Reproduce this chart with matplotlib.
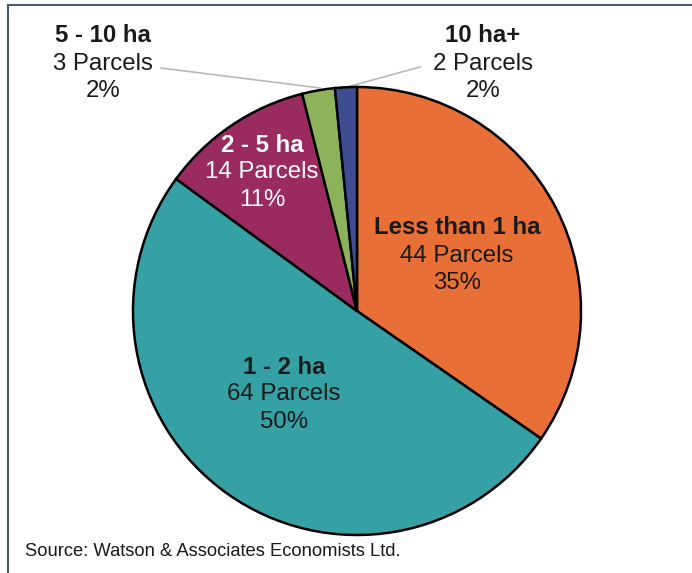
import matplotlib
matplotlib.use("Agg")
import matplotlib.pyplot as plt
from matplotlib.lines import Line2D

# ---- data ----
categories = ["Less than 1 ha", "1 - 2 ha", "2 - 5 ha", "5 - 10 ha", "10 ha+"]
parcels = [44, 64, 14, 3, 2]
colors = ["#E86F36", "#36A1A4", "#9A2B5E", "#8CB35A", "#3E4D92"]
label_colors = ["#1a1a1a", "#1a1a1a", "#ffffff", "#1a1a1a", "#1a1a1a"]
source = "Source: Watson & Associates Economists Ltd."

plt.rcParams['font.family'] = ['Liberation Sans', 'DejaVu Sans']

W, H = 692, 573
fig = plt.figure(figsize=(W / 100, H / 100), dpi=100)
ax = fig.add_axes([0, 0, 1, 1])

cx, cy, r = 357, H - 311, 224
ax.pie(parcels, colors=colors, startangle=90, counterclock=False,
       center=(cx, cy), radius=r,
       wedgeprops=dict(edgecolor="black", linewidth=1.8))
ax.set_xlim(0, W)
ax.set_ylim(0, H)
ax.set_axis_off()

total = sum(parcels)
# label centres (image pixel coords: x, first-line y)
label_pos = [(457, 228), (284, 367), (262, 145), (103, 36), (483, 36)]
line_gap = 27.5
fs = 17.3
for cat, n, (lx, ly), tc in zip(categories, parcels, label_pos, label_colors):
    pct = round(100 * n / total)
    ax.text(lx, H - ly, cat, ha="center", va="center", fontsize=fs,
            fontweight="bold", color=tc)
    ax.text(lx, H - ly - line_gap, f"{n} Parcels", ha="center", va="center",
            fontsize=fs, color=tc)
    ax.text(lx, H - ly - 2 * line_gap, f"{pct}%", ha="center", va="center",
            fontsize=fs, color=tc)

# leader lines
ax.plot([161, 320], [H - 68, H - 88], color="#b8b8b8", lw=1.2, zorder=0)
ax.plot([420, 347], [H - 67, H - 87], color="#b8b8b8", lw=1.2, zorder=0)

# source
ax.text(25, H - 551, source, ha="left", va="center", fontsize=13.2,
        color="#1a1a1a")

# frame lines (top and left)
fig.add_artist(Line2D([8 / W, 1], [1 - 5 / H, 1 - 5 / H], transform=fig.transFigure,
                      color="#4a5a6a", lw=1.5))
fig.add_artist(Line2D([8 / W, 8 / W], [0, 1 - 5 / H], transform=fig.transFigure,
                      color="#4a5a6a", lw=1.5))

fig.savefig("out.png", dpi=100)
